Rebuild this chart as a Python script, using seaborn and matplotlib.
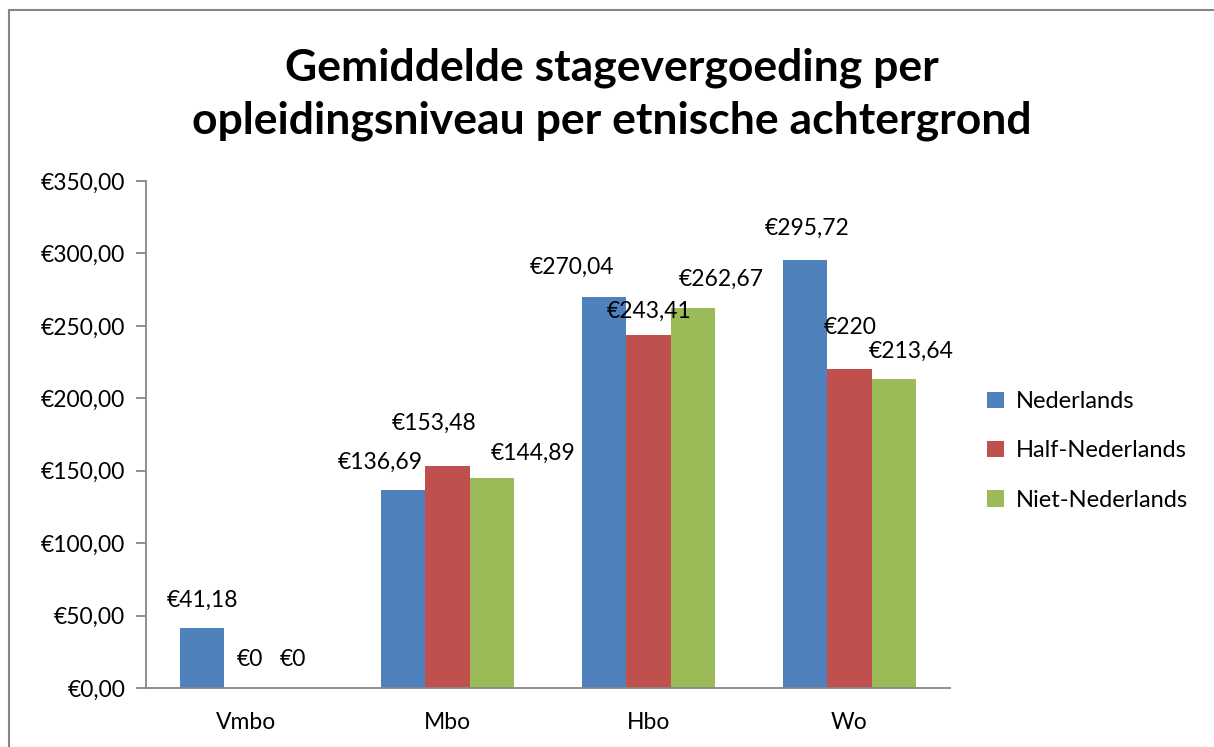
import matplotlib
matplotlib.use("Agg")
import matplotlib.pyplot as plt
import seaborn as sns
import pandas as pd
from matplotlib.lines import Line2D
from matplotlib.patches import Patch

categories = ["Vmbo", "Mbo", "Hbo", "Wo"]
series = ["Nederlands", "Half-Nederlands", "Niet-Nederlands"]
nederlands = [41.18, 136.69, 270.04, 295.72]
half_nederlands = [0, 153.48, 243.41, 220]
niet_nederlands = [0, 144.89, 262.67, 213.64]
label_texts = [
    ["€41,18", "€136,69", "€270,04", "€295,72"],
    ["€0", "€153,48", "€243,41", "€220"],
    ["€0", "€144,89", "€262,67", "€213,64"],
]
yticks = [0, 50, 100, 150, 200, 250, 300, 350]
ytick_labels = ["€0,00", "€50,00", "€100,00", "€150,00", "€200,00", "€250,00", "€300,00", "€350,00"]
title = "Gemiddelde stagevergoeding per\nopleidingsniveau per etnische achtergrond"

colors = ["#4F81BD", "#C0504D", "#9BBB59"]
# label offsets (pixels) relative to bar top-centre: (dx, dy)
label_offsets = [
    [(0, 28), (-23, 28), (-32, 29), (2, 31)],
    [(3, 28), (-13, 42), (1, 24), (1, 42)],
    [(2, 28), (42, 25), (29, 28), (18, 27)],
]

rows = []
for s, vals in zip(series, [nederlands, half_nederlands, niet_nederlands]):
    for c, v in zip(categories, vals):
        rows.append({"cat": c, "series": s, "value": v})
df = pd.DataFrame(rows)

sns.set_style("white")
plt.rcParams["font.family"] = ["Lato", "DejaVu Sans"]
plt.rcParams["text.color"] = "black"
plt.rcParams["xtick.color"] = "black"
plt.rcParams["ytick.color"] = "black"

FS = 16.5
W, H = 1214, 747
fig = plt.figure(figsize=(W / 100, H / 100), dpi=100)
ax = fig.add_axes([146 / W, 1 - 688 / H, (950 - 146) / W, (688 - 181) / H])

sns.barplot(data=df, x="cat", y="value", hue="series", order=categories,
            hue_order=series, palette=colors, width=0.657, saturation=1,
            legend=False, ax=ax, errorbar=None, linewidth=0, edgecolor="none")

ax.set_xlim(-0.5, 3.5)
ax.set_ylim(0, 350)
ax.set_yticks(yticks)
ax.set_yticklabels(ytick_labels, fontsize=FS, color="black")
ax.set_xticks(range(len(categories)))
ax.set_xticklabels(categories, fontsize=FS, color="black")
ax.set_xticks([-0.5, 0.5, 1.5, 2.5, 3.5], minor=True)
ax.tick_params(axis="x", which="major", length=0, pad=17)
ax.tick_params(axis="x", which="minor", length=7, width=1.3, color="#868686", direction="out")
ax.tick_params(axis="y", length=7, width=1.3, color="#868686", direction="out", pad=8, left=True)
ax.set_xlabel("")
ax.set_ylabel("")
for sp in ["top", "right"]:
    ax.spines[sp].set_visible(False)
for sp in ["left", "bottom"]:
    ax.spines[sp].set_color("#868686")
    ax.spines[sp].set_linewidth(1.3)

# data labels
for i, cont in enumerate(ax.containers):
    for j, bar in enumerate(cont):
        dx, dy = label_offsets[i][j]
        x = bar.get_x() + bar.get_width() / 2
        y = bar.get_height()
        ax.annotate(label_texts[i][j], (x, y), xytext=(dx * 0.72, dy * 0.72),
                    textcoords="offset points", ha="center", va="center",
                    fontsize=FS, color="black", annotation_clip=False)

fig.text(612 / W, 1 - 94 / H, title, ha="center", va="center",
         fontsize=32, fontweight="bold", linespacing=1.38, color="black")

handles = [Patch(facecolor=c, edgecolor="none") for c in colors]
fig.legend(handles, series, loc="center left", bbox_to_anchor=(966 / W, 1 - 451 / H),
           frameon=False, fontsize=17, handlelength=0.7, handleheight=0.7,
           handletextpad=0.5, labelspacing=1.2, labelcolor="black")

# outer border (top and left visible)
fig.add_artist(Line2D([9 / W, 1], [1 - 10 / H, 1 - 10 / H], color="#868686", lw=1.5))
fig.add_artist(Line2D([9 / W, 9 / W], [0, 1 - 10 / H], color="#868686", lw=1.5))

fig.savefig("out.png", dpi=100)
